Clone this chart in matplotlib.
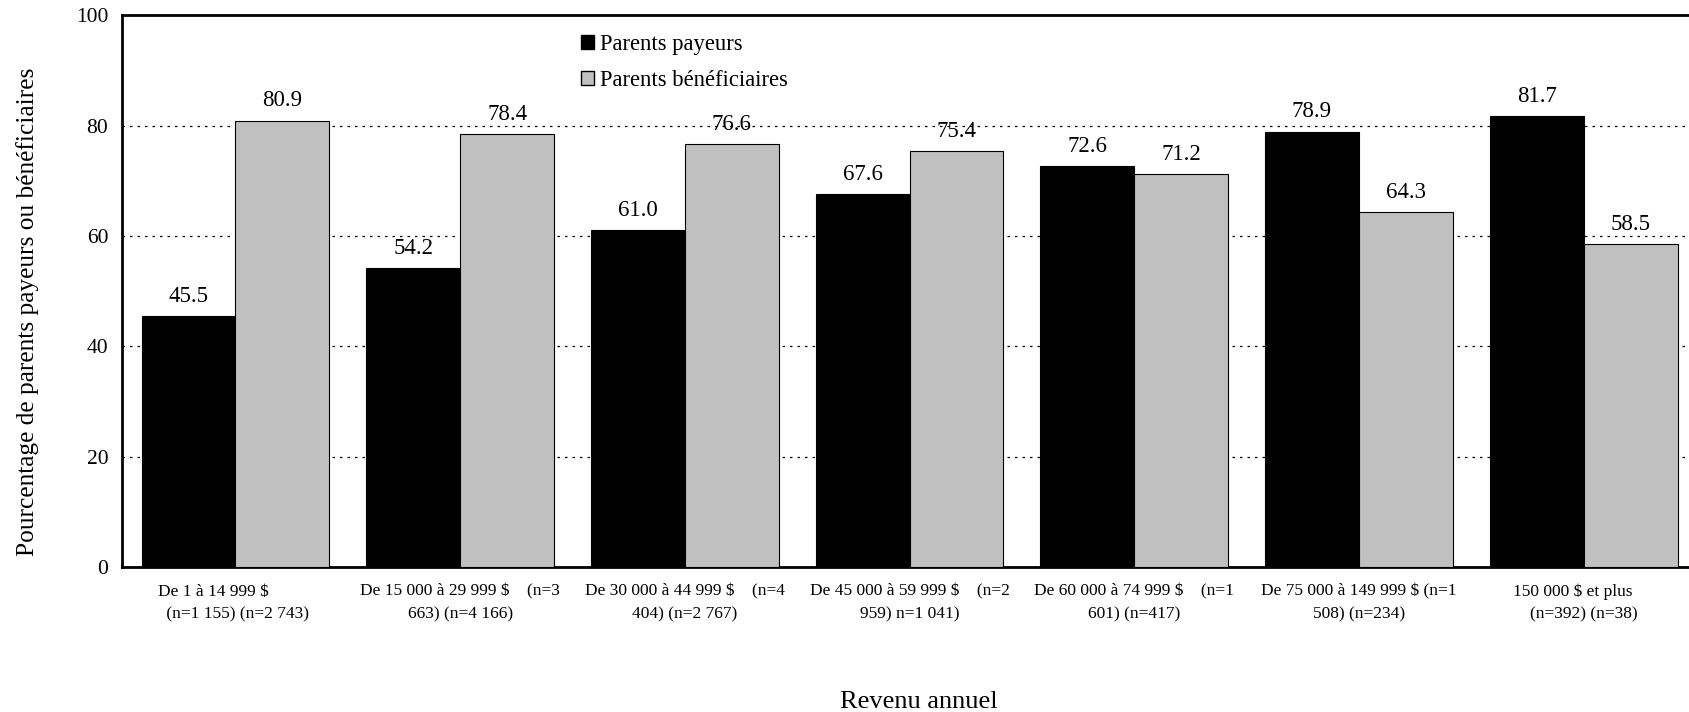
import matplotlib
matplotlib.use("Agg")
import matplotlib.pyplot as plt
import numpy as np
from matplotlib.patches import Patch

plt.rcParams['font.family'] = ['Liberation Serif', 'DejaVu Serif']

# Income brackets (two-line labels, sample sizes for each group)
categories = [
    "De 1 à 14 999 $          \n (n=1 155) (n=2 743)",
    "De 15 000 à 29 999 $    (n=3\n663) (n=4 166)",
    "De 30 000 à 44 999 $    (n=4\n404) (n=2 767)",
    "De 45 000 à 59 999 $    (n=2\n959) n=1 041)",
    "De 60 000 à 74 999 $    (n=1\n601) (n=417)",
    "De 75 000 à 149 999 $ (n=1\n508) (n=234)",
    "150 000 $ et plus     \n(n=392) (n=38)",
]
payeurs = [45.5, 54.2, 61.0, 67.6, 72.6, 78.9, 81.7]
beneficiaires = [80.9, 78.4, 76.6, 75.4, 71.2, 64.3, 58.5]
series_names = ["Parents payeurs", "Parents bénéficiaires"]
yticks = [0, 20, 40, 60, 80, 100]

fig = plt.figure(figsize=(16.9, 7.12), dpi=100)
ax = fig.add_axes([0.0722, 0.2037, 0.932, 0.775])

x = np.arange(len(categories))
w = 0.418
b1 = ax.bar(x - w / 2, payeurs, w, color="black", edgecolor="black", linewidth=0.8, zorder=3)
b2 = ax.bar(x + w / 2, beneficiaires, w, color="#c0c0c0", edgecolor="black", linewidth=0.8, zorder=3)

for rects, vals in ((b1, payeurs), (b2, beneficiaires)):
    for r, v in zip(rects, vals):
        ax.text(r.get_x() + r.get_width() / 2, v + 1.7, f"{v:.1f}",
                ha="center", va="bottom", fontsize=16.5, zorder=4)

ax.set_xlim(-0.505, len(categories) - 1 + 0.505)
ax.set_ylim(0, 100)
ax.set_yticks(yticks)
ax.tick_params(axis="y", length=0, pad=10, labelsize=15.5)
ax.set_xticks(x)
ax.set_xticklabels(categories, fontsize=12.5, linespacing=1.55)
ax.tick_params(axis="x", length=0, pad=12)

for y in yticks[1:-1]:
    ax.axhline(y, color="black", linestyle=(0, (2, 4)), linewidth=0.9, zorder=1)

for s in ("top", "left", "bottom"):
    ax.spines[s].set_linewidth(2)
ax.spines["right"].set_visible(False)

ax.set_ylabel("Pourcentage de parents payeurs ou bénéficiaires", fontsize=18.3)
ax.yaxis.set_label_coords(-0.053, 0.463)
ax.set_xlabel("Revenu annuel", fontsize=19)
ax.xaxis.set_label_coords(0.506, -0.225)

handles = [Patch(facecolor="black", edgecolor="black"),
           Patch(facecolor="#c0c0c0", edgecolor="black")]
ax.legend(handles, series_names, loc="upper left", bbox_to_anchor=(0.2855, 0.982),
          frameon=False, fontsize=16.3, handlelength=0.6, handleheight=0.6,
          handletextpad=0.25, labelspacing=0.65, borderaxespad=0)

fig.savefig("out.png", dpi=100)
